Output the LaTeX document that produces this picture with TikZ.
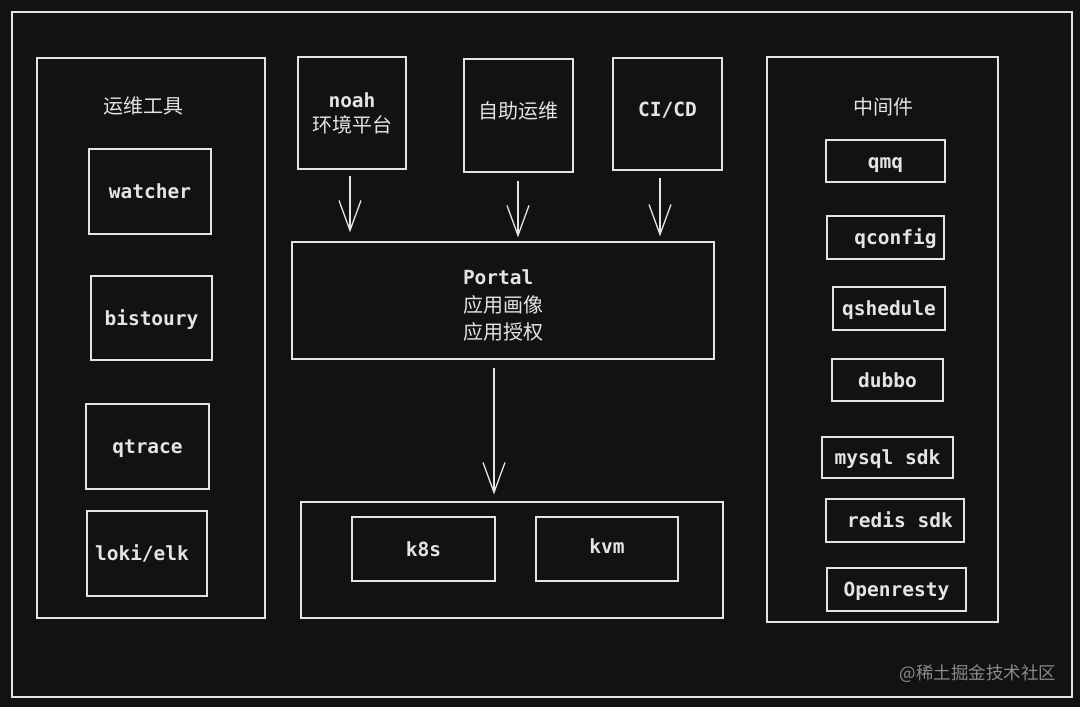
\documentclass[tikz,border=0pt]{standalone}
\usepackage{fontspec}
\newfontfamily\cjk{Noto Sans CJK SC}
\newfontfamily\mon{DejaVu Sans Mono}
\usetikzlibrary{arrows.meta}
\definecolor{bg}{HTML}{121212}
\definecolor{ink}{HTML}{E4E4E4}
\definecolor{wm}{HTML}{8A8A8A}
\begin{document}
\begin{tikzpicture}[x=1pt,y=-1pt,
  box/.style={draw=ink, line width=1.3pt, inner sep=0pt, text=ink},
  mt/.style={font=\mon\bfseries\fontsize{19.5}{25}\selectfont, text height=14pt, text depth=0pt},
  ct/.style={font=\cjk\fontsize{20}{25}\selectfont},
  flow/.style={draw=ink, line width=1.3pt, -{Straight Barb[length=30pt,width=22pt,line width=1.3pt]}},
]
\fill[bg] (0,0) rectangle (1080,707);
\useasboundingbox (0,0) rectangle (1080,707);
\draw[ink, line width=1.3pt] (12,12) rectangle (1072,697);

% left panel
\node[box, minimum width=228pt, minimum height=560pt] (ops) at (151,338) {};
\node[ct, text=ink] (opstitle) at (143,106) {运维工具};
\node[box, mt, minimum width=122pt, minimum height=85pt] (watcher) at (150,191.5) {watcher};
\node[box, mt, minimum width=121pt, minimum height=84pt] (bistoury) at (151.5,318) {bistoury};
\node[box, mt, minimum width=123pt, minimum height=85pt] (qtrace) at (147.5,446.5) {qtrace};
\node[box, mt, minimum width=120pt, minimum height=85pt] (loki) at (147,553.5) {loki/elk\hspace*{10pt}};

% top sources
\node[box, font=\fontsize{20}{25}\selectfont, align=center, minimum width=108pt, minimum height=112pt] (noah) at (352,113)
  {{\mon\bfseries\fontsize{19.5}{25}\selectfont noah}\\{\cjk 环境平台}};
\node[box, ct, text height=12pt, text depth=6pt, minimum width=109pt, minimum height=113pt] (self) at (518.5,115.5) {自助运维};
\node[box, mt, text height=4pt, minimum width=109pt, minimum height=112pt] (cicd) at (667.5,114) {CI/CD};

% portal
\node[box, font=\fontsize{20}{27.5}\selectfont, align=left, minimum width=422pt, minimum height=117pt] (portal) at (503,300.5)
  {{\mon\bfseries\fontsize{19.5}{27.5}\selectfont\rule{0pt}{25pt}Portal}\\{\cjk 应用画像}\hspace*{8pt}\\{\cjk 应用授权}};

% infrastructure
\node[box, minimum width=422pt, minimum height=116pt] (infra) at (512,560) {};
\node[box, mt, minimum width=143pt, minimum height=64pt] (k8s) at (423.5,549) {k8s};
\node[box, mt, text height=8pt, minimum width=142pt, minimum height=64pt] (kvm) at (607,549) {kvm};

% right panel
\node[box, minimum width=231pt, minimum height=565pt] (mw) at (882.5,339.5) {};
\node[ct, text=ink] (mwtitle) at (883,107) {中间件};
\node[box, mt, minimum width=119pt, minimum height=42pt] (qmq) at (885.5,161) {qmq};
\node[box, mt, minimum width=117pt, minimum height=43pt] (qconfig) at (885.5,237.5) {\hspace*{20pt}qconfig};
\node[box, mt, minimum width=112pt, minimum height=43pt] (qshedule) at (889,308.5) {qshedule};
\node[box, mt, minimum width=111pt, minimum height=42pt] (dubbo) at (887.5,380) {dubbo};
\node[box, mt, minimum width=131pt, minimum height=41pt] (mysql) at (887.5,457.5) {mysql sdk};
\node[box, mt, minimum width=138pt, minimum height=43pt] (redis) at (895,520.5) {\hspace*{10pt}redis sdk};
\node[box, mt, minimum width=139pt, minimum height=43pt] (openresty) at (896.5,589.5) {Openresty};

% arrows
\draw[flow, shorten <=6pt, shorten >=9pt] ([xshift=-2pt]noah.south) -- ([xshift=-2pt]noah.south |- portal.north);
\draw[flow, shorten <=8pt, shorten >=4pt] ([xshift=-0.5pt]self.south) -- ([xshift=-0.5pt]self.south |- portal.north);
\draw[flow, shorten <=7pt, shorten >=5pt] ([xshift=-7.5pt]cicd.south) -- ([xshift=-7.5pt]cicd.south |- portal.north);
\draw[flow, shorten <=8pt, shorten >=7pt] ([xshift=-9pt]portal.south) -- ([xshift=-9pt]portal.south |- infra.north);

% watermark
\node[font=\cjk\fontsize{17.5}{20}\selectfont, text=wm] (wmark) at (978,674) {@稀土掘金技术社区};
\end{tikzpicture}
\end{document}
